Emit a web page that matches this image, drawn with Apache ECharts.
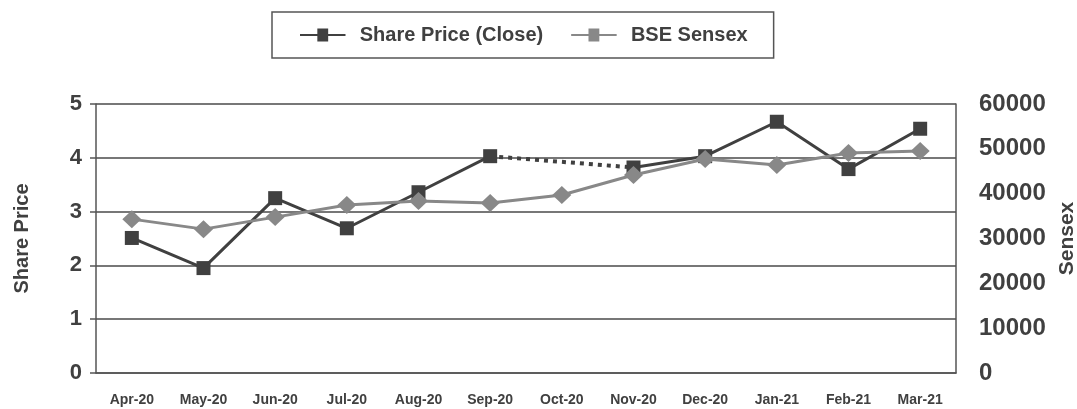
<!DOCTYPE html>
<html>
<head>
<meta charset="utf-8">
<script src="https://cdn.jsdelivr.net/npm/echarts@6/dist/echarts.min.js"></script>
<style>
  html, body { margin: 0; padding: 0; background: #fff; }
  #chart { width: 1077px; height: 409px; }
</style>
</head>
<body>
<div id="chart"></div>
<script>
// 数据
var months = ['Apr-20', 'May-20', 'Jun-20', 'Jul-20', 'Aug-20', 'Sep-20', 'Oct-20', 'Nov-20', 'Dec-20', 'Jan-21', 'Feb-21', 'Mar-21'];
var shareClose = [2.51, 1.95, 3.25, 2.69, 3.36, 4.03, null, 3.82, 4.03, 4.67, 3.79, 4.54];
var sensex = [34320, 32090, 34770, 37450, 38340, 37900, 39690, 44150, 47720, 46380, 49060, 49510];

// 缺失月份用虚线连接
var shareGap = shareClose.map(function(v, i){
	if (v === null) return null;
	return (shareClose[i - 1] === null || shareClose[i + 1] === null) ? v : null;
});

var FONT = '"Liberation Sans", Arial, sans-serif';
var TXT = '#404040';
var legendIcon = 'path://M0,8h16v-5h10v5h16v2h-16v5h-10v-5h-16z';

var myChart = echarts.init(document.getElementById('chart'));

var option = {
	animation: false,
	textStyle: { fontFamily: FONT },
	legend: {
		left: 272,
		top: 12,
		padding: [13, 26, 13, 28],
		borderColor: '#555',
		borderWidth: 1.5,
		itemWidth: 48,
		itemHeight: 13,
		itemGap: 28,
		textStyle: { fontFamily: FONT, fontWeight: 'bold', fontSize: 20, color: TXT, padding: [0, 0, 0, 8] },
		data: [
			{ name: 'Share Price (Close)', icon: legendIcon, itemStyle: { color: '#404040' } },
			{ name: 'BSE Sensex', icon: legendIcon, itemStyle: { color: '#888888' } }
		]
	},
	grid: { left: 96, right: 121, top: 104, bottom: 36, outerBoundsMode: 'none' },
	xAxis: {
		type: 'category',
		data: months,
		boundaryGap: true,
		axisLine: { lineStyle: { color: '#555', width: 1.5 } },
		axisTick: { length: 7, lineStyle: { color: '#555', width: 1.5 } },
		axisLabel: { fontFamily: FONT, fontWeight: 'bold', fontSize: 14, color: TXT, margin: 20, interval: 0 }
	},
	yAxis: [
		{
			type: 'value',
			min: 0, max: 5, interval: 1,
			name: 'Share Price',
			nameLocation: 'middle',
			nameGap: 64,
			nameTextStyle: { fontFamily: FONT, fontWeight: 'bold', fontSize: 20, color: TXT },
			axisLine: { show: true, lineStyle: { color: '#555', width: 1.5 } },
			axisTick: { show: true, length: 6, lineStyle: { color: '#555', width: 1.5 } },
			axisLabel: { fontFamily: FONT, fontWeight: 'bold', fontSize: 22, color: TXT, margin: 14 },
			splitLine: { lineStyle: { color: '#4a4a4a', width: 1.5 } }
		},
		{
			type: 'value',
			min: 0, max: 60000, interval: 10000,
			name: 'Sensex',
			nameLocation: 'middle',
			nameGap: 101,
			nameTextStyle: { fontFamily: FONT, fontWeight: 'bold', fontSize: 21, color: TXT },
			axisLine: { show: true, lineStyle: { color: '#555', width: 1.5 } },
			axisTick: { show: false },
			axisLabel: {
				fontFamily: FONT, fontWeight: 'bold', fontSize: 24, color: TXT, margin: 23,
				formatter: function(v){ return String(v); }
			},
			splitLine: { show: false }
		}
	],
	series: [
		{
			name: 'Share Price (Close)',
			type: 'line',
			yAxisIndex: 0,
			data: shareClose,
			connectNulls: false,
			symbol: 'rect',
			symbolSize: 14,
			lineStyle: { color: '#404040', width: 3 },
			itemStyle: { color: '#404040' },
			z: 3
		},
		{
			name: 'gap',
			type: 'line',
			yAxisIndex: 0,
			data: shareGap,
			connectNulls: true,
			symbol: 'none',
			lineStyle: { color: '#404040', width: 4, type: [4, 5] },
			z: 2
		},
		{
			name: 'BSE Sensex',
			type: 'line',
			yAxisIndex: 1,
			data: sensex,
			symbol: 'diamond',
			symbolSize: [19, 18],
			lineStyle: { color: '#888888', width: 3 },
			itemStyle: { color: '#888888' },
			z: 4
		}
	]
};

myChart.setOption(option);
</script>
</body>
</html>
